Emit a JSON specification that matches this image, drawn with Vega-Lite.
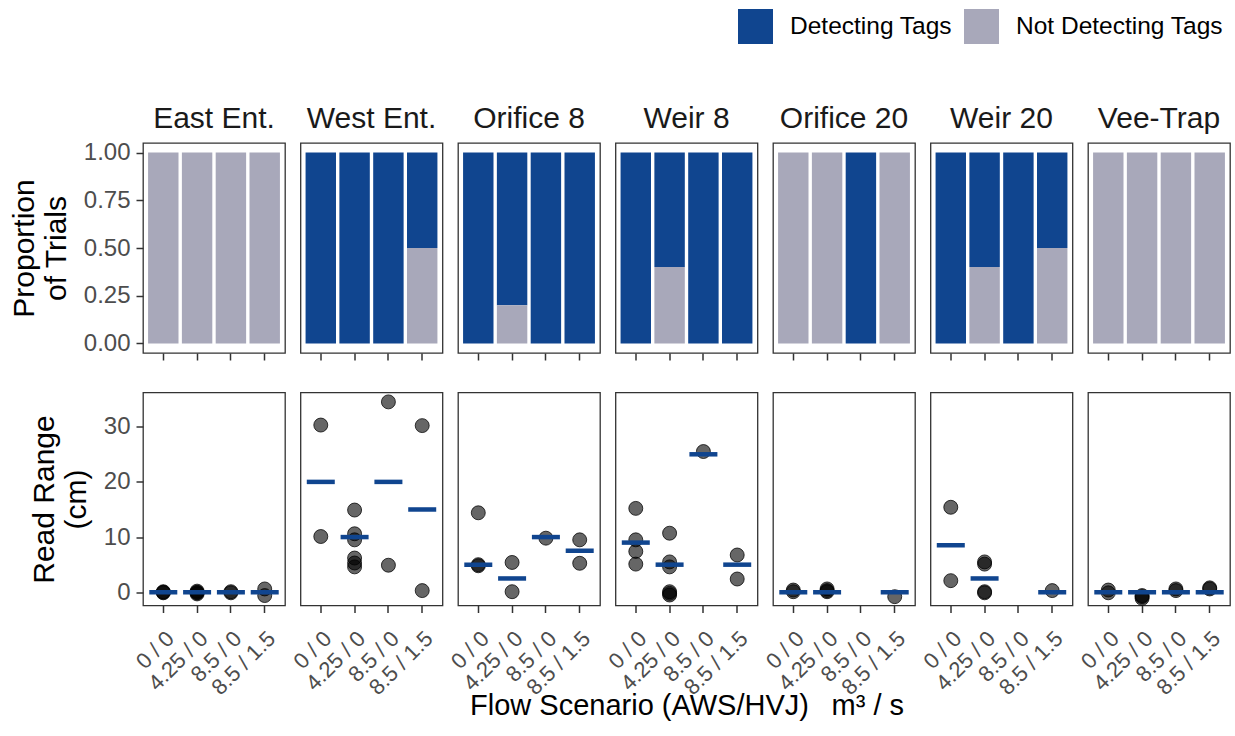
{
  "$schema": "https://vega.github.io/schema/vega-lite/v6.json",
  "background": "white",
  "padding": {"left": 9, "top": 9, "right": 5, "bottom": 2},
  "config": {
    "font": "Liberation Sans",
    "view": {"stroke": "#333333", "strokeWidth": 1.3},
    "axis": {
      "grid": false, "domain": false, "tickColor": "#333333", "tickWidth": 1.5, "tickSize": 7,
      "labelColor": "#4d4d4d", "labelFontSize": 24, "labelFont": "Liberation Sans",
      "titleFontSize": 30, "titleFontWeight": "normal", "titleColor": "#000000", "titleFont": "Liberation Sans"
    },
    "header": {"labelFont": "Liberation Sans", "titleFont": "Liberation Sans"},
    "legend": {
      "orient": "none", "legendX": 595, "legendY": -134, "direction": "horizontal", "title": null,
      "symbolType": "square", "symbolSize": 1225, "symbolStrokeWidth": 0, "symbolOpacity": 1,
      "labelFontSize": 24.5, "labelColor": "#000000", "labelFont": "Liberation Sans", "labelOffset": 17, "columnPadding": 11, "labelLimit": 400
    },
    "concat": {"spacing": 30.5}
  },
  "datasets": {
    "props": [
      {"site": "East Ent.", "scenario": "0 / 0", "status": "Not Detecting Tags", "proportion": 1},
      {"site": "East Ent.", "scenario": "4.25 / 0", "status": "Not Detecting Tags", "proportion": 1},
      {"site": "East Ent.", "scenario": "8.5 / 0", "status": "Not Detecting Tags", "proportion": 1},
      {"site": "East Ent.", "scenario": "8.5 / 1.5", "status": "Not Detecting Tags", "proportion": 1},
      {"site": "West Ent.", "scenario": "0 / 0", "status": "Detecting Tags", "proportion": 1},
      {"site": "West Ent.", "scenario": "4.25 / 0", "status": "Detecting Tags", "proportion": 1},
      {"site": "West Ent.", "scenario": "8.5 / 0", "status": "Detecting Tags", "proportion": 1},
      {"site": "West Ent.", "scenario": "8.5 / 1.5", "status": "Detecting Tags", "proportion": 0.5},
      {"site": "West Ent.", "scenario": "8.5 / 1.5", "status": "Not Detecting Tags", "proportion": 0.5},
      {"site": "Orifice 8", "scenario": "0 / 0", "status": "Detecting Tags", "proportion": 1},
      {"site": "Orifice 8", "scenario": "4.25 / 0", "status": "Detecting Tags", "proportion": 0.8},
      {"site": "Orifice 8", "scenario": "4.25 / 0", "status": "Not Detecting Tags", "proportion": 0.2},
      {"site": "Orifice 8", "scenario": "8.5 / 0", "status": "Detecting Tags", "proportion": 1},
      {"site": "Orifice 8", "scenario": "8.5 / 1.5", "status": "Detecting Tags", "proportion": 1},
      {"site": "Weir 8", "scenario": "0 / 0", "status": "Detecting Tags", "proportion": 1},
      {"site": "Weir 8", "scenario": "4.25 / 0", "status": "Detecting Tags", "proportion": 0.6},
      {"site": "Weir 8", "scenario": "4.25 / 0", "status": "Not Detecting Tags", "proportion": 0.4},
      {"site": "Weir 8", "scenario": "8.5 / 0", "status": "Detecting Tags", "proportion": 1},
      {"site": "Weir 8", "scenario": "8.5 / 1.5", "status": "Detecting Tags", "proportion": 1},
      {"site": "Orifice 20", "scenario": "0 / 0", "status": "Not Detecting Tags", "proportion": 1},
      {"site": "Orifice 20", "scenario": "4.25 / 0", "status": "Not Detecting Tags", "proportion": 1},
      {"site": "Orifice 20", "scenario": "8.5 / 0", "status": "Detecting Tags", "proportion": 1},
      {"site": "Orifice 20", "scenario": "8.5 / 1.5", "status": "Not Detecting Tags", "proportion": 1},
      {"site": "Weir 20", "scenario": "0 / 0", "status": "Detecting Tags", "proportion": 1},
      {"site": "Weir 20", "scenario": "4.25 / 0", "status": "Detecting Tags", "proportion": 0.6},
      {"site": "Weir 20", "scenario": "4.25 / 0", "status": "Not Detecting Tags", "proportion": 0.4},
      {"site": "Weir 20", "scenario": "8.5 / 0", "status": "Detecting Tags", "proportion": 1},
      {"site": "Weir 20", "scenario": "8.5 / 1.5", "status": "Detecting Tags", "proportion": 0.5},
      {"site": "Weir 20", "scenario": "8.5 / 1.5", "status": "Not Detecting Tags", "proportion": 0.5},
      {"site": "Vee-Trap", "scenario": "0 / 0", "status": "Not Detecting Tags", "proportion": 1},
      {"site": "Vee-Trap", "scenario": "4.25 / 0", "status": "Not Detecting Tags", "proportion": 1},
      {"site": "Vee-Trap", "scenario": "8.5 / 0", "status": "Not Detecting Tags", "proportion": 1},
      {"site": "Vee-Trap", "scenario": "8.5 / 1.5", "status": "Not Detecting Tags", "proportion": 1}
    ],
    "ranges": [
      {"site": "East Ent.", "scenario": "0 / 0", "kind": "point", "cm": 0.1},
      {"site": "East Ent.", "scenario": "0 / 0", "kind": "point", "cm": -0.1},
      {"site": "East Ent.", "scenario": "0 / 0", "kind": "point", "cm": 0.0},
      {"site": "East Ent.", "scenario": "4.25 / 0", "kind": "point", "cm": 0.2},
      {"site": "East Ent.", "scenario": "4.25 / 0", "kind": "point", "cm": -0.3},
      {"site": "East Ent.", "scenario": "4.25 / 0", "kind": "point", "cm": 0.0},
      {"site": "East Ent.", "scenario": "4.25 / 0", "kind": "point", "cm": -0.1},
      {"site": "East Ent.", "scenario": "8.5 / 0", "kind": "point", "cm": 0.1},
      {"site": "East Ent.", "scenario": "8.5 / 0", "kind": "point", "cm": -0.1},
      {"site": "East Ent.", "scenario": "8.5 / 1.5", "kind": "point", "cm": 0.6},
      {"site": "East Ent.", "scenario": "8.5 / 1.5", "kind": "point", "cm": -0.6},
      {"site": "West Ent.", "scenario": "0 / 0", "kind": "point", "cm": 30.3},
      {"site": "West Ent.", "scenario": "0 / 0", "kind": "point", "cm": 10.1},
      {"site": "West Ent.", "scenario": "4.25 / 0", "kind": "point", "cm": 14.9},
      {"site": "West Ent.", "scenario": "4.25 / 0", "kind": "point", "cm": 10.6},
      {"site": "West Ent.", "scenario": "4.25 / 0", "kind": "point", "cm": 9.5},
      {"site": "West Ent.", "scenario": "4.25 / 0", "kind": "point", "cm": 6.2},
      {"site": "West Ent.", "scenario": "4.25 / 0", "kind": "point", "cm": 5.3},
      {"site": "West Ent.", "scenario": "4.25 / 0", "kind": "point", "cm": 4.6},
      {"site": "West Ent.", "scenario": "8.5 / 0", "kind": "point", "cm": 34.5},
      {"site": "West Ent.", "scenario": "8.5 / 0", "kind": "point", "cm": 4.9},
      {"site": "West Ent.", "scenario": "8.5 / 1.5", "kind": "point", "cm": 30.2},
      {"site": "West Ent.", "scenario": "8.5 / 1.5", "kind": "point", "cm": 0.3},
      {"site": "Orifice 8", "scenario": "0 / 0", "kind": "point", "cm": 14.4},
      {"site": "Orifice 8", "scenario": "0 / 0", "kind": "point", "cm": 5.0},
      {"site": "Orifice 8", "scenario": "0 / 0", "kind": "point", "cm": 4.8},
      {"site": "Orifice 8", "scenario": "4.25 / 0", "kind": "point", "cm": 5.4},
      {"site": "Orifice 8", "scenario": "4.25 / 0", "kind": "point", "cm": 0.1},
      {"site": "Orifice 8", "scenario": "8.5 / 0", "kind": "point", "cm": 9.8},
      {"site": "Orifice 8", "scenario": "8.5 / 1.5", "kind": "point", "cm": 9.5},
      {"site": "Orifice 8", "scenario": "8.5 / 1.5", "kind": "point", "cm": 5.25},
      {"site": "Weir 8", "scenario": "0 / 0", "kind": "point", "cm": 15.2},
      {"site": "Weir 8", "scenario": "0 / 0", "kind": "point", "cm": 9.5},
      {"site": "Weir 8", "scenario": "0 / 0", "kind": "point", "cm": 7.4},
      {"site": "Weir 8", "scenario": "0 / 0", "kind": "point", "cm": 5.1},
      {"site": "Weir 8", "scenario": "4.25 / 0", "kind": "point", "cm": 10.7},
      {"site": "Weir 8", "scenario": "4.25 / 0", "kind": "point", "cm": 5.5},
      {"site": "Weir 8", "scenario": "4.25 / 0", "kind": "point", "cm": 4.6},
      {"site": "Weir 8", "scenario": "4.25 / 0", "kind": "point", "cm": 0.1},
      {"site": "Weir 8", "scenario": "4.25 / 0", "kind": "point", "cm": -0.5},
      {"site": "Weir 8", "scenario": "4.25 / 0", "kind": "point", "cm": -0.2},
      {"site": "Weir 8", "scenario": "8.5 / 0", "kind": "point", "cm": 25.5},
      {"site": "Weir 8", "scenario": "8.5 / 1.5", "kind": "point", "cm": 6.75},
      {"site": "Weir 8", "scenario": "8.5 / 1.5", "kind": "point", "cm": 2.4},
      {"site": "Orifice 20", "scenario": "0 / 0", "kind": "point", "cm": 0.4},
      {"site": "Orifice 20", "scenario": "0 / 0", "kind": "point", "cm": 0.1},
      {"site": "Orifice 20", "scenario": "4.25 / 0", "kind": "point", "cm": 0.6},
      {"site": "Orifice 20", "scenario": "4.25 / 0", "kind": "point", "cm": 0.3},
      {"site": "Orifice 20", "scenario": "4.25 / 0", "kind": "point", "cm": 0.1},
      {"site": "Orifice 20", "scenario": "8.5 / 1.5", "kind": "point", "cm": -0.8},
      {"site": "Weir 20", "scenario": "0 / 0", "kind": "point", "cm": 15.4},
      {"site": "Weir 20", "scenario": "0 / 0", "kind": "point", "cm": 2.1},
      {"site": "Weir 20", "scenario": "4.25 / 0", "kind": "point", "cm": 5.5},
      {"site": "Weir 20", "scenario": "4.25 / 0", "kind": "point", "cm": 5.1},
      {"site": "Weir 20", "scenario": "4.25 / 0", "kind": "point", "cm": 0.1},
      {"site": "Weir 20", "scenario": "4.25 / 0", "kind": "point", "cm": -0.1},
      {"site": "Weir 20", "scenario": "8.5 / 1.5", "kind": "point", "cm": 0.3},
      {"site": "Vee-Trap", "scenario": "0 / 0", "kind": "point", "cm": 0.4},
      {"site": "Vee-Trap", "scenario": "0 / 0", "kind": "point", "cm": -0.1},
      {"site": "Vee-Trap", "scenario": "4.25 / 0", "kind": "point", "cm": -0.6},
      {"site": "Vee-Trap", "scenario": "4.25 / 0", "kind": "point", "cm": -1.1},
      {"site": "Vee-Trap", "scenario": "4.25 / 0", "kind": "point", "cm": -0.8},
      {"site": "Vee-Trap", "scenario": "8.5 / 0", "kind": "point", "cm": 0.6},
      {"site": "Vee-Trap", "scenario": "8.5 / 0", "kind": "point", "cm": 0.3},
      {"site": "Vee-Trap", "scenario": "8.5 / 1.5", "kind": "point", "cm": 0.8},
      {"site": "Vee-Trap", "scenario": "8.5 / 1.5", "kind": "point", "cm": 0.6},
      {"site": "East Ent.", "scenario": "0 / 0", "kind": "median", "cm": 0},
      {"site": "East Ent.", "scenario": "4.25 / 0", "kind": "median", "cm": 0},
      {"site": "East Ent.", "scenario": "8.5 / 0", "kind": "median", "cm": 0},
      {"site": "East Ent.", "scenario": "8.5 / 1.5", "kind": "median", "cm": 0},
      {"site": "West Ent.", "scenario": "0 / 0", "kind": "median", "cm": 20},
      {"site": "West Ent.", "scenario": "4.25 / 0", "kind": "median", "cm": 10},
      {"site": "West Ent.", "scenario": "8.5 / 0", "kind": "median", "cm": 20},
      {"site": "West Ent.", "scenario": "8.5 / 1.5", "kind": "median", "cm": 15},
      {"site": "Orifice 8", "scenario": "0 / 0", "kind": "median", "cm": 5},
      {"site": "Orifice 8", "scenario": "4.25 / 0", "kind": "median", "cm": 2.5},
      {"site": "Orifice 8", "scenario": "8.5 / 0", "kind": "median", "cm": 10},
      {"site": "Orifice 8", "scenario": "8.5 / 1.5", "kind": "median", "cm": 7.5},
      {"site": "Weir 8", "scenario": "0 / 0", "kind": "median", "cm": 9},
      {"site": "Weir 8", "scenario": "4.25 / 0", "kind": "median", "cm": 5},
      {"site": "Weir 8", "scenario": "8.5 / 0", "kind": "median", "cm": 25},
      {"site": "Weir 8", "scenario": "8.5 / 1.5", "kind": "median", "cm": 5},
      {"site": "Orifice 20", "scenario": "0 / 0", "kind": "median", "cm": 0},
      {"site": "Orifice 20", "scenario": "4.25 / 0", "kind": "median", "cm": 0},
      {"site": "Orifice 20", "scenario": "8.5 / 1.5", "kind": "median", "cm": 0},
      {"site": "Weir 20", "scenario": "0 / 0", "kind": "median", "cm": 8.5},
      {"site": "Weir 20", "scenario": "4.25 / 0", "kind": "median", "cm": 2.5},
      {"site": "Weir 20", "scenario": "8.5 / 1.5", "kind": "median", "cm": 0},
      {"site": "Vee-Trap", "scenario": "0 / 0", "kind": "median", "cm": 0},
      {"site": "Vee-Trap", "scenario": "4.25 / 0", "kind": "median", "cm": 0},
      {"site": "Vee-Trap", "scenario": "8.5 / 0", "kind": "median", "cm": 0},
      {"site": "Vee-Trap", "scenario": "8.5 / 1.5", "kind": "median", "cm": 0}
    ]
  },
  "vconcat": [
    {
      "data": {"name": "props"},
      "bounds": "flush",
      "facet": {
        "column": {
          "field": "site", "type": "nominal",
          "sort": ["East Ent.", "West Ent.", "Orifice 8", "Weir 8", "Orifice 20", "Weir 20", "Vee-Trap"],
          "header": {"title": null, "labelFontSize": 30, "labelColor": "#1a1a1a", "labelPadding": 9}
        }
      },
      "spacing": 15.5,
      "spec": {
        "width": 142,
        "height": 210,
        "mark": {"type": "bar"},
        "encoding": {
          "x": {
            "field": "scenario", "type": "nominal",
            "sort": ["0 / 0", "4.25 / 0", "8.5 / 0", "8.5 / 1.5"],
            "scale": {"paddingInner": 0.1, "paddingOuter": 0.15},
            "axis": {"labels": false, "title": null}
          },
          "y": {
            "field": "proportion", "type": "quantitative", "stack": "zero",
            "scale": {"domain": [-0.05, 1.05], "nice": false, "zero": false},
            "axis": {"values": [0, 0.25, 0.5, 0.75, 1], "format": ".2f", "title": ["Proportion", "of Trials"], "titlePadding": 12, "labelPadding": 6}
          },
          "color": {
            "field": "status", "type": "nominal",
            "scale": {"domain": ["Detecting Tags", "Not Detecting Tags"], "range": ["#10458f", "#a8a8ba"]}
          },
          "order": {"field": "status", "sort": "descending"}
        }
      }
    },
    {
      "data": {"name": "ranges"},
      "bounds": "flush",
      "facet": {
        "column": {
          "field": "site", "type": "nominal",
          "sort": ["East Ent.", "West Ent.", "Orifice 8", "Weir 8", "Orifice 20", "Weir 20", "Vee-Trap"],
          "title": "Flow Scenario (AWS/HVJ) \u2002m³ / s",
          "header": {"labels": false, "titleOrient": "bottom", "titleFontSize": 29, "titleColor": "#000000", "titleFontWeight": "normal", "titlePadding": -18}
        }
      },
      "spacing": 15.5,
      "spec": {
        "width": 142,
        "height": 213,
        "encoding": {
          "x": {
            "field": "scenario", "type": "nominal",
            "sort": ["0 / 0", "4.25 / 0", "8.5 / 0", "8.5 / 1.5"],
            "scale": {"paddingInner": 0.1, "paddingOuter": 0.15},
            "axis": {"labelAngle": -45, "labelAlign": "right", "labelBaseline": "top", "labelFontSize": 22, "title": null, "labelPadding": 15, "labelDx": 9}
          }
        },
        "layer": [
          {
            "transform": [{"filter": "datum.kind == 'point'"}],
            "mark": {"type": "circle", "size": 195, "fill": "black", "fillOpacity": 0.6, "stroke": "black", "strokeOpacity": 0.75, "strokeWidth": 1},
            "encoding": {
              "y": {
                "field": "cm", "type": "quantitative",
                "scale": {"domain": [-2.4, 36.2], "nice": false, "zero": false},
                "axis": {"values": [0, 10, 20, 30], "title": ["Read Range", "(cm)"], "titlePadding": 12, "labelPadding": 6}
              }
            }
          },
          {
            "transform": [{"filter": "datum.kind == 'median'"}],
            "mark": {"type": "tick", "orient": "horizontal", "size": 28, "thickness": 4.5, "color": "#10458f", "opacity": 1},
            "encoding": {
              "y": {"field": "cm", "type": "quantitative"}
            }
          }
        ]
      }
    }
  ]
}
